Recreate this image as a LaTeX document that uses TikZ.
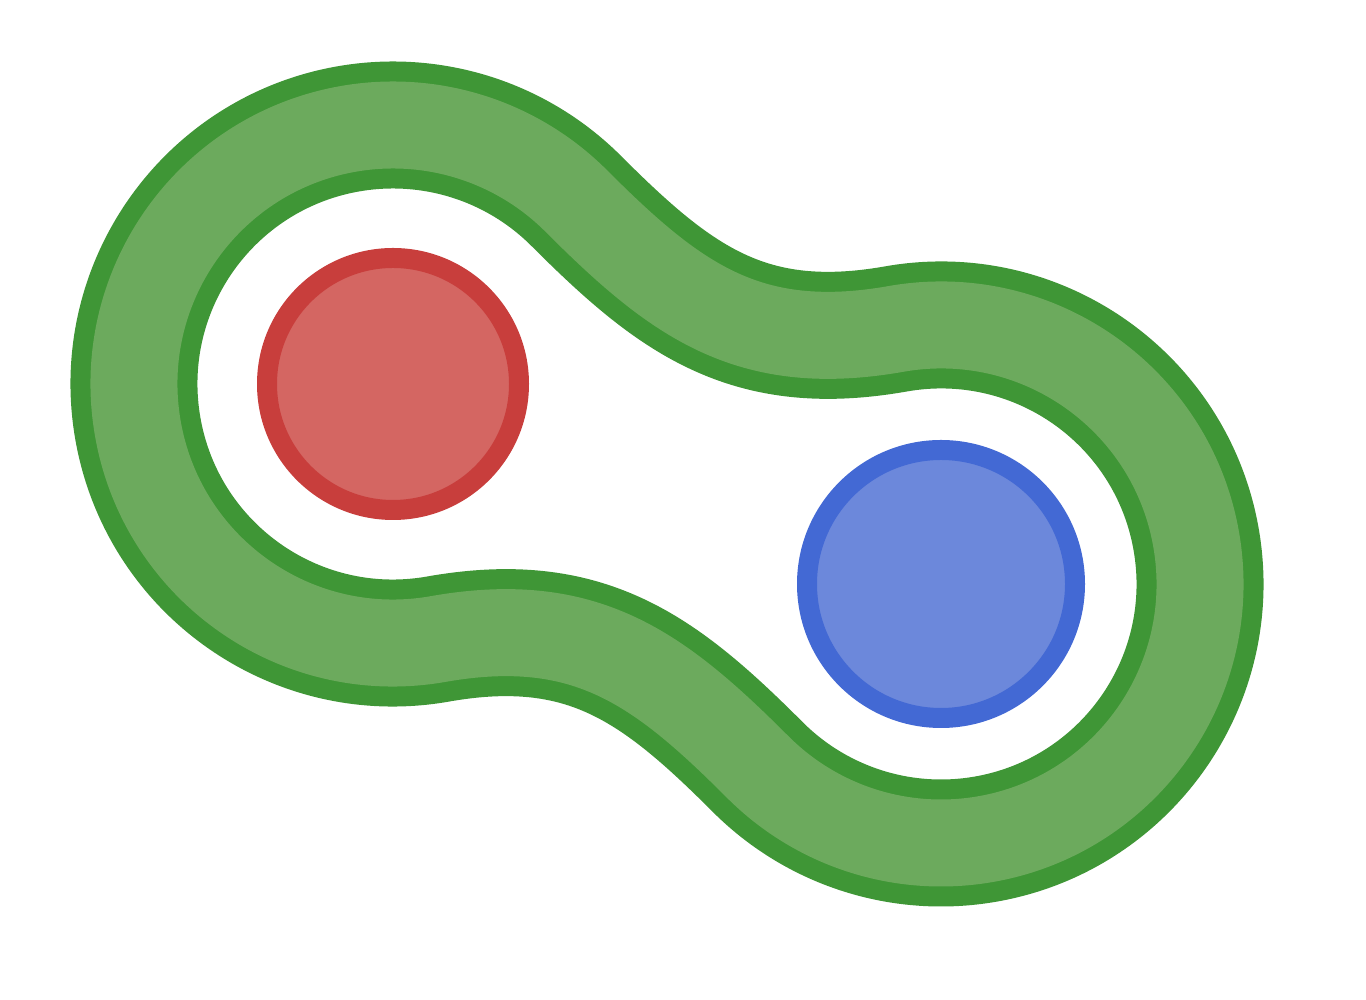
\documentclass[tikz,border=0pt]{standalone}
\usepackage{tikz}
\usetikzlibrary{calc}
\definecolor{gdark}{HTML}{3F9636}
\definecolor{glight}{HTML}{6CAA5D}
\definecolor{rdark}{HTML}{C83E3C}
\definecolor{rlight}{HTML}{D46662}
\definecolor{bdark}{HTML}{4369D4}
\definecolor{blight}{HTML}{6C88DB}
\tikzset{
  band/.style={draw=gdark,double=glight,line width=20pt,double distance=87pt,line join=round},
  dotr/.style={draw=rdark,fill=rlight,line width=20pt},
  dotb/.style={draw=bdark,fill=blight,line width=20pt},
}
\begin{document}
\begin{tikzpicture}[x=1pt,y=1pt]
  \useasboundingbox (0,0) rectangle (1366,1000);
  \coordinate (r) at (393,616);
  \coordinate (b) at (941,416);
  % band round both dots
  \draw[band] ($(r)+(45:259)$)
    .. controls +(-45:140) and +(190:150) .. ($(b)+(100:259)$)
    arc[start angle=100,end angle=-135,radius=259]
    .. controls +(135:140) and +(10:150) .. ($(r)+(280:259)$)
    arc[start angle=-80,end angle=-315,radius=259]
    -- cycle;
  \draw[dotr] (r) circle[radius=126];
  \draw[dotb] (b) circle[radius=134];
\end{tikzpicture}
\end{document}
